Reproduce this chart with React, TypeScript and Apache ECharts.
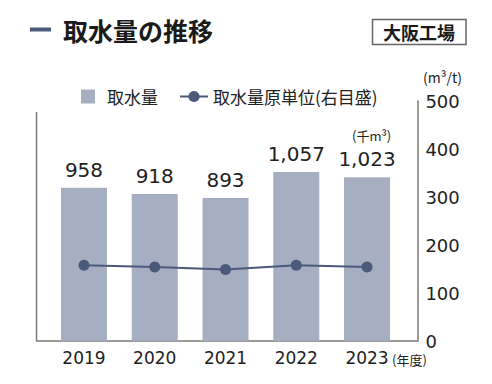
import React, { useEffect, useRef } from "react";
import * as echarts from "echarts";

const categories = ["2019", "2020", "2021", "2022", "2023"];
const intakeVolume = [958, 918, 893, 1057, 1023];
const intakeUnit = [158, 154, 149, 158, 154];
const rightTicks = [0, 100, 200, 300, 400, 500];

const FONT = "'Noto Sans CJK JP', 'Noto Sans', sans-serif";
const NUM = "'DejaVu Sans', 'Noto Sans CJK JP', sans-serif";
const BAR = "#a6afc1";
const LINE = "#4b5a7b";
const AXIS = "#7a7a7a";

export default function App() {
  const ref = useRef<HTMLDivElement>(null);
  useEffect(() => {
    if (!ref.current) return;
    const chart = echarts.init(ref.current, null, { renderer: "svg" });
    chart.setOption({
      animation: false,
      textStyle: { fontFamily: FONT },
      legend: {
        left: 76,
        top: 83,
        itemGap: 21,
        itemWidth: 28,
        itemHeight: 14,
        textStyle: { fontSize: 17, color: "#222", fontFamily: FONT },
        data: [
          { name: "取水量", icon: "path://M0,0h14v14h-14z" },
          { name: "取水量原単位(右目盛)" },
        ],
      },
      grid: { left: 48.6, right: 89.6, top: 101, bottom: 43 },
      xAxis: {
        type: "category",
        data: categories,
        axisLine: { show: false },
        axisTick: { show: false },
        axisLabel: { fontSize: 17, color: "#222", margin: 8, fontFamily: NUM },
      },
      yAxis: [
        {
          type: "value",
          min: 0,
          max: 1500,
          interval: 300,
          show: false,
        },
        {
          type: "value",
          position: "right",
          offset: 15,
          min: rightTicks[0],
          max: rightTicks[rightTicks.length - 1],
          interval: 100,
          axisLine: { show: true, lineStyle: { color: AXIS, width: 1.5 } },
          axisTick: { show: false },
          splitLine: { show: false },
          axisLabel: { fontSize: 18, color: "#222", margin: 8, fontFamily: NUM },
        },
      ],
      series: [
        {
          name: "取水量",
          type: "bar",
          data: intakeVolume,
          barWidth: 46,
          yAxisIndex: 0,
          itemStyle: { color: BAR },
          label: {
            show: true,
            position: "top",
            distance: 8,
            fontSize: 20,
            color: "#222",
            fontFamily: NUM,
            formatter: (p: any) => Number(p.value).toLocaleString("en-US"),
          },
        },
        {
          name: "取水量原単位(右目盛)",
          type: "line",
          data: intakeUnit,
          yAxisIndex: 1,
          symbol: "circle",
          symbolSize: 11,
          lineStyle: { color: LINE, width: 2 },
          itemStyle: { color: LINE },
        },
      ],
      graphic: [
        { type: "rect", shape: { x: 30, y: 27.5, width: 21, height: 4 }, style: { fill: LINE } },
        {
          type: "text",
          x: 63,
          y: 29.5,
          style: { text: "取水量の推移", font: `bold 25px ${FONT}`, fill: "#1a1a1a", textVerticalAlign: "middle" },
        },
        {
          type: "rect",
          shape: { x: 372.5, y: 19.5, width: 93.5, height: 25 },
          style: { fill: "#fff", stroke: "#666", lineWidth: 1.5 },
        },
        {
          type: "text",
          x: 419,
          y: 32,
          style: { text: "大阪工場", font: `bold 18px ${FONT}`, fill: "#1a1a1a", textAlign: "center", textVerticalAlign: "middle" },
        },
        {
          type: "text",
          x: 423,
          y: 77,
          style: { text: "(m³/t)", font: `14px ${FONT}`, fill: "#222", textVerticalAlign: "middle" },
        },
        {
          type: "text",
          x: 352,
          y: 135,
          style: { text: "(千m³)", font: `13px ${FONT}`, fill: "#222", textVerticalAlign: "middle" },
        },
        {
          type: "text",
          x: 392,
          y: 359,
          style: { text: "(年度)", font: `13px ${FONT}`, fill: "#222", textVerticalAlign: "middle" },
        },
        {
          type: "line",
          shape: { x1: 36.5, y1: 112, x2: 36.5, y2: 341 },
          style: { stroke: AXIS, lineWidth: 1.5 },
        },
        {
          type: "line",
          shape: { x1: 36, y1: 341, x2: 418, y2: 341 },
          style: { stroke: AXIS, lineWidth: 1.5 },
        },
      ],
    });
    return () => chart.dispose();
  }, []);
  return <div ref={ref} style={{ width: 492, height: 384, position: "absolute", left: 0, top: 0 }} />;
}
